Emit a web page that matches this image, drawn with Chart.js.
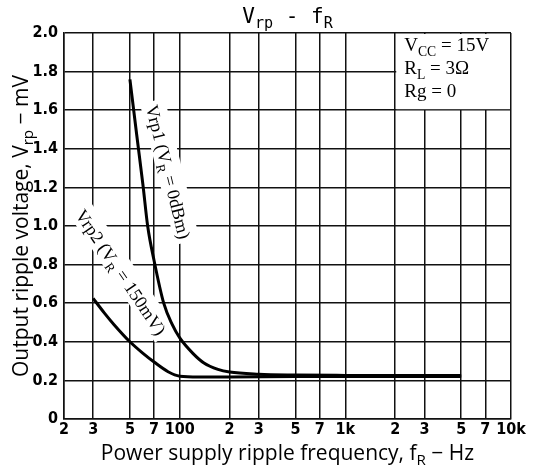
<!DOCTYPE html>
<html><head><meta charset="utf-8">
<script src="https://cdn.jsdelivr.net/npm/chart.js@4/dist/chart.umd.min.js"></script>
<style>html,body{margin:0;padding:0;background:#fff}#wrap{width:544px;height:471px;position:relative}</style>
</head><body><div id="wrap"><canvas id="c" width="544" height="471"></canvas></div>
<script>
// ---------- data ----------
const xTicks = [20, 30, 50, 70, 100, 200, 300, 500, 700, 1000, 2000, 3000, 5000, 7000, 10000];
const xTickLabels = ['2', '3', '5', '7', '100', '2', '3', '5', '7', '1k', '2', '3', '5', '7', '10k'];
const yTicks = [0, 0.2, 0.4, 0.6, 0.8, 1.0, 1.2, 1.4, 1.6, 1.8, 2.0];
const yTickLabels = ['0', '0.2', '0.4', '0.6', '0.8', '1.0', '1.2', '1.4', '1.6', '1.8', '2.0'];

const vrp1Freq   = [50, 55, 60, 64, 70, 80, 90, 100, 120, 140, 170, 200, 300, 500, 1000, 2000, 5000];
const vrp1Values = [1.76, 1.47, 1.21, 1.0, 0.82, 0.60, 0.49, 0.42, 0.34, 0.29, 0.257, 0.243, 0.232, 0.228, 0.226, 0.225, 0.225];

const vrp2Freq   = [30, 35, 40, 50, 60, 70, 85, 100, 130, 200, 500, 1000, 5000];
const vrp2Values = [0.625, 0.55, 0.49, 0.40, 0.34, 0.295, 0.245, 0.222, 0.218, 0.218, 0.22, 0.22, 0.22];

const titleParts = [['V'], ['rp', 1], [' - f'], ['R', 1]];
const yTitleParts = [['Output ripple voltage, V'], ['rp', 1], [' \u2212 mV']];
const xTitleParts = [['Power supply ripple frequency, f'], ['R', 1], [' \u2212 Hz']];
const label1Parts = [['Vrp1 (V'], ['R', 1], [' = 0dBm)']];
const label2Parts = [['Vrp2 (V'], ['R', 1], [' = 150mV)']];
const condLines = [
  [['V'], ['CC', 1], [' = 15V']],
  [['R'], ['L', 1], [' = 3\u03A9']],
  [['Rg = 0']]
];

// ---------- helpers ----------
function richWidth(ctx, parts, size, family, weight) {
  let w = 0;
  for (const p of parts) {
    ctx.font = (weight || '') + ' ' + (p[1] ? size * 0.72 : size) + 'px ' + family;
    w += ctx.measureText(p[0]).width;
  }
  return w;
}
function drawRich(ctx, parts, x, y, size, family, align, weight) {
  const w = richWidth(ctx, parts, size, family, weight);
  let cx = align === 'center' ? x - w / 2 : (align === 'right' ? x - w : x);
  ctx.textAlign = 'left';
  ctx.textBaseline = 'alphabetic';
  for (const p of parts) {
    const s = p[1] ? size * 0.72 : size;
    ctx.font = (weight || '') + ' ' + s + 'px ' + family;
    ctx.fillText(p[0], cx, y + (p[1] ? size * 0.25 : 0));
    cx += ctx.measureText(p[0]).width;
  }
  return w;
}
function fitSize(ctx, parts, target, family, maxSize) {
  const w = richWidth(ctx, parts, 20, family);
  return Math.min(maxSize, 20 * target / w);
}

const SANS = "'Open Sans', 'DejaVu Sans', sans-serif";
const SERIF = "'Liberation Serif', 'DejaVu Serif', serif";
const MONO = "'DejaVu Sans Mono', 'Liberation Mono', monospace";
const NARROW = "'Liberation Sans Narrow', 'DejaVu Sans Condensed', 'Liberation Sans', sans-serif";

const annotPlugin = {
  id: 'annot',
  beforeDatasetsDraw(chart) {
    const ctx = chart.ctx, xs = chart.scales.x, ys = chart.scales.y;
    ctx.save();
    // condition box (covers grid between 2k..10k and 1.6..2.0)
    const bx0 = xs.getPixelForValue(2000), bx1 = xs.getPixelForValue(10000);
    const by0 = ys.getPixelForValue(2.0), by1 = ys.getPixelForValue(1.6);
    ctx.fillStyle = '#fff';
    ctx.fillRect(bx0 + 1, by0 + 1, bx1 - bx0 - 2, by1 - by0 - 2);
    ctx.fillStyle = '#000';
    const lh = [18, 41, 64];
    condLines.forEach((ln, i) => drawRich(ctx, ln, bx0 + 9, by0 + lh[i], 19, SERIF, 'left'));

    // rotated curve labels with white background
    const labels = [
      {parts: label1Parts, f: 85, v: 1.28, ang: 76},
      {parts: label2Parts, f: 44, v: 0.76, ang: 56}
    ];
    for (const L of labels) {
      const px = xs.getPixelForValue(L.f), py = ys.getPixelForValue(L.v);
      ctx.save();
      ctx.translate(px, py);
      ctx.rotate(L.ang * Math.PI / 180);
      const size = 18;
      const w = richWidth(ctx, L.parts, size, SERIF);
      ctx.fillStyle = '#fff';
      ctx.fillRect(-w / 2 - 4, -size * 0.8, w + 8, size * 1.4);
      ctx.fillStyle = '#000';
      drawRich(ctx, L.parts, 0, size * 0.33, size, SERIF, 'center');
      ctx.restore();
    }
    ctx.restore();
  },
  afterDraw(chart) {
    const ctx = chart.ctx, ca = chart.chartArea;
    ctx.save();
    ctx.fillStyle = '#000';
    // chart title
    drawRich(ctx, titleParts, (ca.left + ca.right) / 2, 23, 21, MONO, 'center');
    // x-axis title
    const xs = fitSize(ctx, xTitleParts, 410, SANS, 21);
    drawRich(ctx, xTitleParts, (ca.left + ca.right) / 2, 460, xs, SANS, 'center');
    // y-axis title
    const ysz = fitSize(ctx, yTitleParts, 374, SANS, 21);
    ctx.translate(28, (ca.top + ca.bottom) / 2);
    ctx.rotate(-Math.PI / 2);
    drawRich(ctx, yTitleParts, 0, 0, ysz, SANS, 'center');
    ctx.restore();
  }
};

const tickFont = {family: NARROW, size: 16, weight: 'bold'};

new Chart(document.getElementById('c'), {
  type: 'line',
  data: {
    datasets: [
      {data: vrp1Freq.map((f, i) => ({x: f, y: vrp1Values[i]})), borderColor: '#000', borderWidth: 3,
       pointRadius: 0, cubicInterpolationMode: 'monotone', fill: false},
      {data: vrp2Freq.map((f, i) => ({x: f, y: vrp2Values[i]})), borderColor: '#000', borderWidth: 3,
       pointRadius: 0, cubicInterpolationMode: 'monotone', fill: false}
    ]
  },
  options: {
    responsive: false, animation: false, devicePixelRatio: 1,
    layout: {padding: {left: 0, right: 33, top: 33, bottom: 0}},
    plugins: {legend: {display: false}, tooltip: {enabled: false}, title: {display: false}},
    scales: {
      x: {
        type: 'logarithmic', min: 20, max: 10000,
        afterBuildTicks: s => { s.ticks = xTicks.map(v => ({value: v})); },
        afterFit: s => { s.height = 52; },
        grid: {color: '#111', lineWidth: 1.5, drawTicks: false},
        border: {color: '#111', width: 1.5},
        ticks: {autoSkip: false, maxRotation: 0, minRotation: 0, padding: 1, color: '#000', font: tickFont,
                callback: (v, i) => xTickLabels[i]}
      },
      y: {
        type: 'linear', min: 0, max: 2,
        afterBuildTicks: s => { s.ticks = yTicks.map(v => ({value: v})); },
        afterFit: s => { s.width = 64; },
        grid: {color: '#111', lineWidth: 1.5, drawTicks: false},
        border: {color: '#111', width: 1.5},
        ticks: {padding: 6, color: '#000', font: tickFont, callback: (v, i) => yTickLabels[i]}
      }
    }
  },
  plugins: [annotPlugin]
});
</script>
</body></html>
